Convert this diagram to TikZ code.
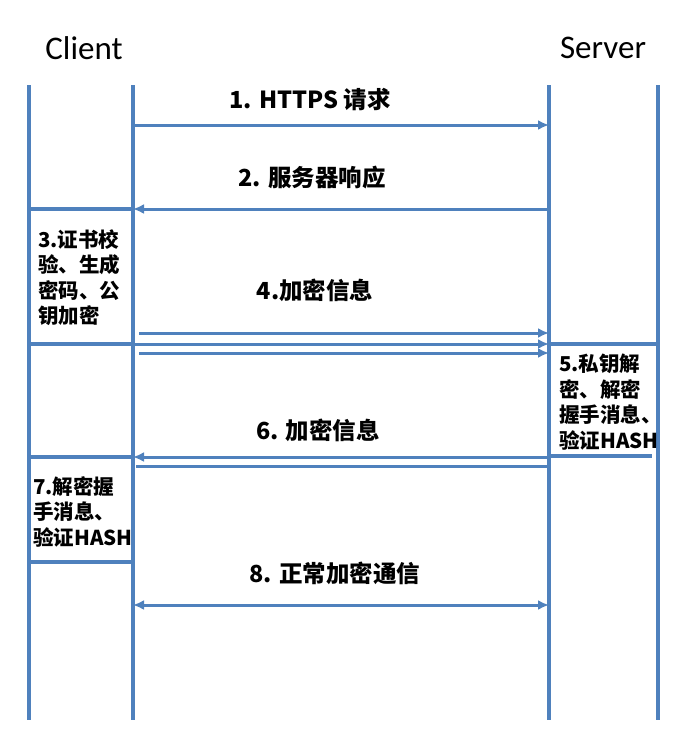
\documentclass[tikz,border=0pt]{standalone}
\usepackage{fontspec}
\setmainfont{Carlito}
\newfontfamily\cjk{Noto Sans CJK SC}
\usetikzlibrary{arrows.meta}
\definecolor{lineblue}{RGB}{79,129,189}
\tikzset{
  life/.style={draw=lineblue, line width=3.5pt},
  msg/.style={draw=lineblue, line width=3pt, -{Latex[length=11pt,width=10pt]}},
  role/.style={font=\fontsize{33}{38}\selectfont},
  lbl/.style={font=\cjk\bfseries\fontsize{23.5}{28}\selectfont, inner sep=0pt},
  boxtxt/.style={font=\cjk\bfseries\fontsize{20.5}{25.5}\selectfont, align=left, inner sep=0pt, anchor=north west}
}
\begin{document}
\begin{tikzpicture}[x=1pt,y=-1pt]
\useasboundingbox (0,0) rectangle (694,742);
% lifelines
\coordinate (c1t) at (29,85);  \coordinate (c1b) at (29,720);
\coordinate (c2t) at (133,85); \coordinate (c2b) at (133,720);
\coordinate (s1t) at (549,85); \coordinate (s1b) at (549,720);
\coordinate (s2t) at (658,85); \coordinate (s2b) at (658,720);
\draw[life] (c1t) -- (c1b);
\draw[life] (c2t) -- (c2b);
\draw[life] (s1t) -- (s1b);
\draw[life] (s2t) -- (s2b);
\node[role] (client) at (84,48) {Client};
\node[role] (server) at (603,48) {Server};
% 1
\coordinate (m1a) at (133,125); \coordinate (m1b) at (549,125);
\draw[msg] (m1a) -- (m1b);
\node[lbl] (l1) at (310,100) {1. HTTPS 请求};
% 2
\coordinate (m2a) at (549,209); \coordinate (m2b) at (133,209);
\coordinate (b3tl) at (29,209);
\draw[msg] (m2a) -- (m2b);
\draw[life] (b3tl) -- (m2b);
\node[lbl] (l2) at (312,178) {2. 服务器响应};
% 3
\node[boxtxt] (t3) at (38,229) {3.证书校\\验、生成\\密码、公\\钥加密};
\coordinate (b3bl) at (29,344); \coordinate (b3br) at (133,344);
\draw[life] (b3bl) -- (b3br);
% 4
\coordinate (m4a) at (139,333); \coordinate (m4b) at (549,333);
\coordinate (m4c) at (133,344); \coordinate (m4d) at (549,344);
\coordinate (m4e) at (139,353); \coordinate (m4f) at (549,353);
\draw[msg] (m4a) -- (m4b);
\draw[msg] (m4c) -- (m4d);
\draw[msg] (m4e) -- (m4f);
\node[lbl] (l4) at (315,290) {4.加密信息};
% 5
\coordinate (b5tr) at (658,344);
\draw[life] (m4d) -- (b5tr);
\node[boxtxt] (t5) at (559,354) {5.私钥解\\密、解密\\握手消息、\\验证HASH};
\coordinate (b5bl) at (549,456); \coordinate (b5br) at (652,456);
\draw[life] (b5bl) -- (b5br);
% 6
\coordinate (m6a) at (549,457); \coordinate (m6b) at (133,457);
\coordinate (m6c) at (549,466); \coordinate (m6d) at (136,466);
\draw[msg] (m6a) -- (m6b);
\draw[life, line width=3pt] (m6c) -- (m6d);
\node[lbl] (l6) at (318,430) {6. 加密信息};
% 7
\coordinate (b7tl) at (29,457);
\draw[life] (b7tl) -- (m6b);
\node[boxtxt] (t7) at (33,476) {7.解密握\\手消息、\\验证HASH};
\coordinate (b7bl) at (29,562); \coordinate (b7br) at (133,562);
\draw[life] (b7bl) -- (b7br);
% 8
\coordinate (m8a) at (133,605); \coordinate (m8b) at (549,605);
\draw[msg, {Latex[length=11pt,width=10pt]}-{Latex[length=11pt,width=10pt]}] (m8a) -- (m8b);
\node[lbl] (l8) at (335,573) {8. 正常加密通信};
\end{tikzpicture}
\end{document}
